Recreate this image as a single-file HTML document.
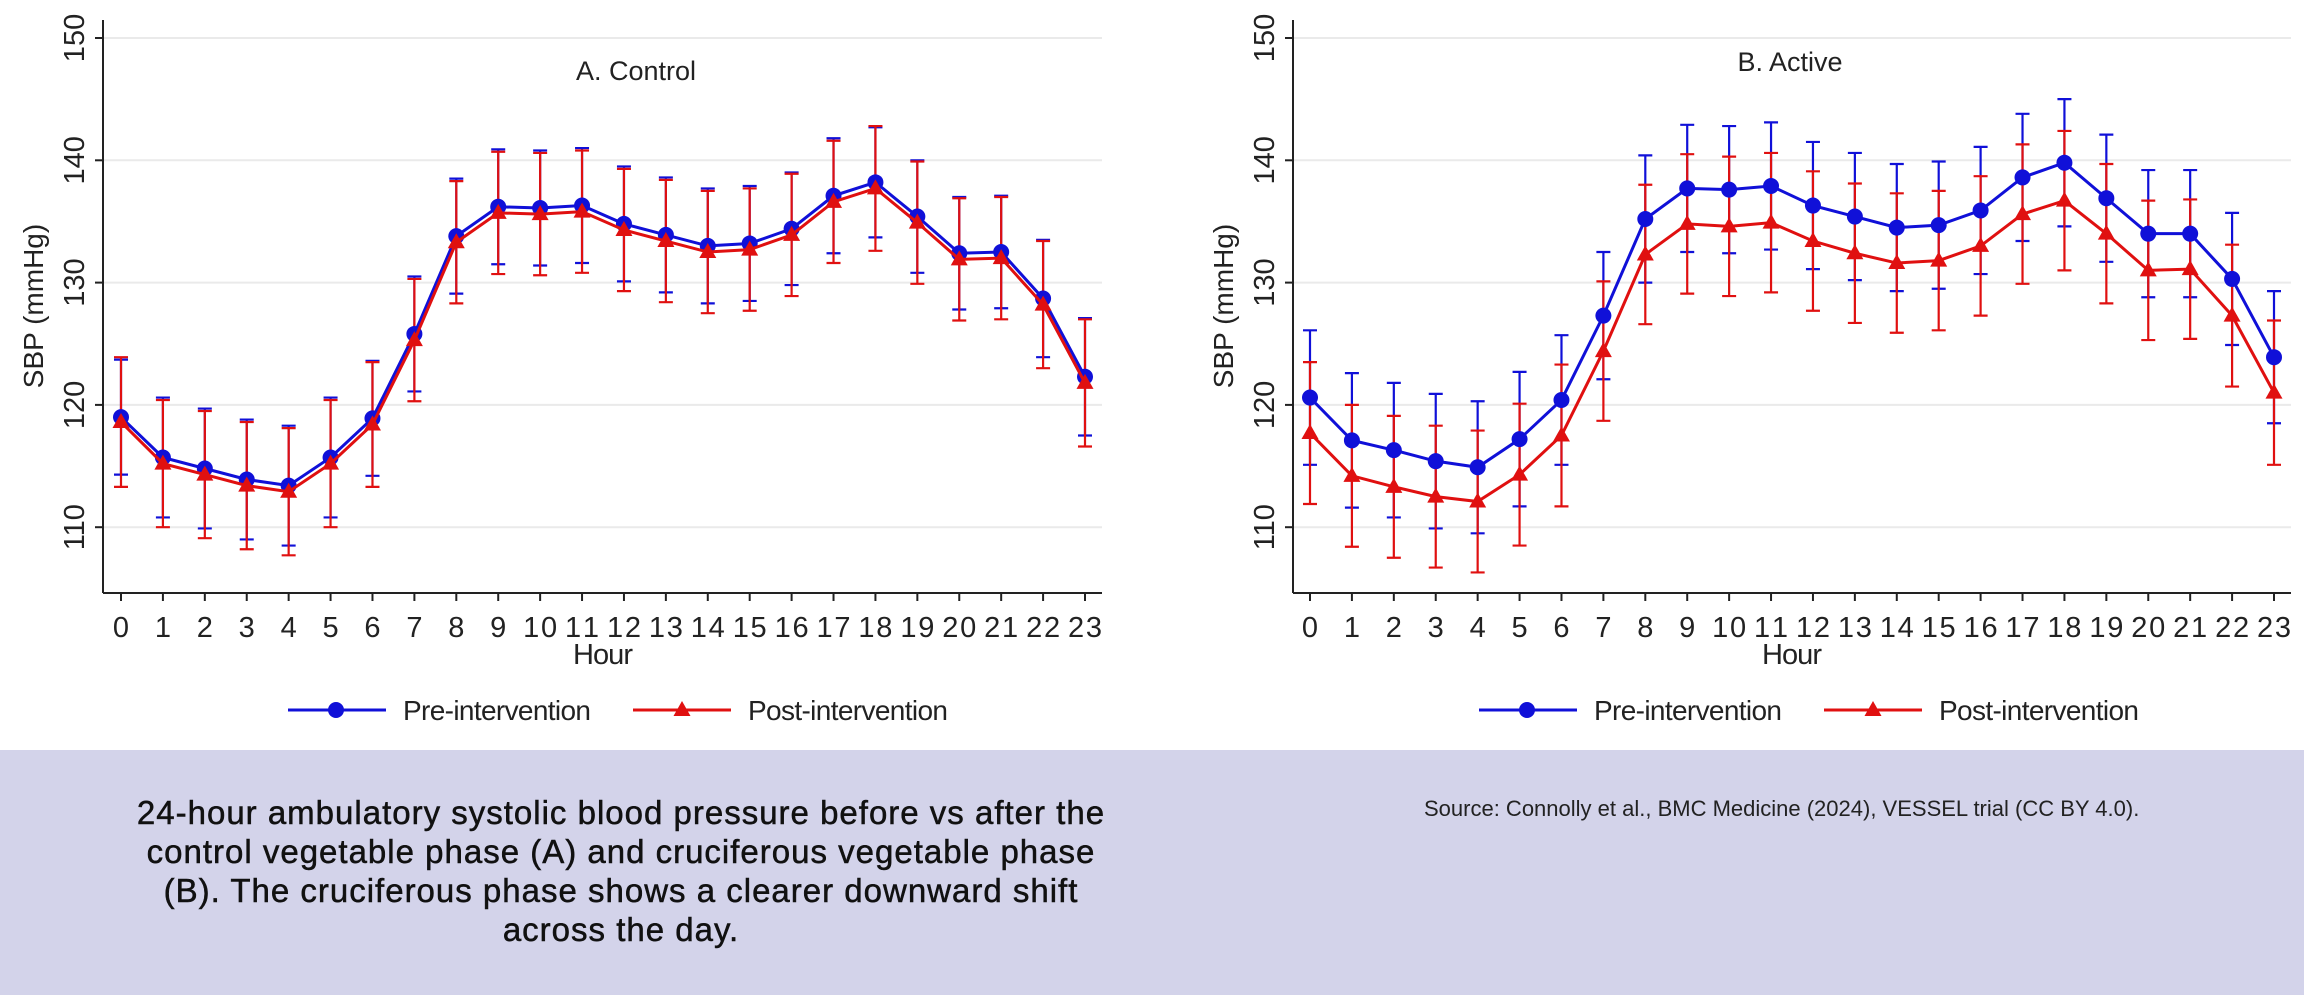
<!DOCTYPE html>
<html><head><meta charset="utf-8">
<style>
html,body{margin:0;padding:0;background:#fff;}
#wrap{position:relative;width:2304px;height:995px;overflow:hidden;font-family:"Liberation Sans",sans-serif;}
#chart{position:absolute;left:0;top:0;}
#caption-band{position:absolute;left:0;top:750px;width:2304px;height:245px;background:#d3d3ea;}
#caption{position:absolute;left:71px;top:43px;width:1100px;text-align:center;font-size:33px;letter-spacing:1px;line-height:39px;color:#111;-webkit-text-stroke:0.5px #111;}
#source{position:absolute;left:1424px;top:46px;font-size:22px;color:#222;}
</style></head>
<body>
<div id="wrap">
<svg id="chart" width="2304" height="750" xmlns="http://www.w3.org/2000/svg"></svg>
<div id="caption-band">
<div id="caption">24-hour ambulatory systolic blood pressure before vs after the<br>control vegetable phase (A) and cruciferous vegetable phase<br>(B). The cruciferous phase shows a clearer downward shift<br>across the day.</div>
<div id="source">Source: Connolly et al., BMC Medicine (2024), VESSEL trial (CC BY 4.0).</div>
</div>
</div>
<script>
const hours = [0,1,2,3,4,5,6,7,8,9,10,11,12,13,14,15,16,17,18,19,20,21,22,23];
const yTicks = [110,120,130,140,150];
const controlPre = [119,115.7,114.8,113.9,113.4,115.7,118.9,125.8,133.8,136.2,136.1,136.3,134.8,133.9,133.0,133.2,134.4,137.1,138.2,135.4,132.4,132.5,128.7,122.3];
const controlPost = [118.6,115.2,114.3,113.4,112.9,115.2,118.4,125.3,133.3,135.7,135.6,135.8,134.3,133.4,132.5,132.7,133.9,136.6,137.7,134.9,131.9,132.0,128.2,121.8];
const controlPreErr = [4.7,4.9,4.9,4.9,4.9,4.9,4.7,4.7,4.7,4.7,4.7,4.7,4.7,4.7,4.7,4.7,4.6,4.7,4.5,4.6,4.6,4.6,4.8,4.8];
const controlPostErr = [5.3,5.2,5.2,5.2,5.2,5.2,5.1,5.0,5.0,5.0,5.0,5.0,5.0,5.0,5.0,5.0,5.0,5.0,5.1,5.0,5.0,5.0,5.2,5.2];
const activePre = [120.6,117.1,116.3,115.4,114.9,117.2,120.4,127.3,135.2,137.7,137.6,137.9,136.3,135.4,134.5,134.7,135.9,138.6,139.8,136.9,134.0,134.0,130.3,123.9];
const activePost = [117.7,114.2,113.3,112.5,112.1,114.3,117.5,124.4,132.3,134.8,134.6,134.9,133.4,132.4,131.6,131.8,133.0,135.6,136.7,134.0,131.0,131.1,127.3,121.0];
const activePreErr = [5.5,5.5,5.5,5.5,5.4,5.5,5.3,5.2,5.2,5.2,5.2,5.2,5.2,5.2,5.2,5.2,5.2,5.2,5.2,5.2,5.2,5.2,5.4,5.4];
const activePostErr = [5.8,5.8,5.8,5.8,5.8,5.8,5.8,5.7,5.7,5.7,5.7,5.7,5.7,5.7,5.7,5.7,5.7,5.7,5.7,5.7,5.7,5.7,5.8,5.9];

const NS="http://www.w3.org/2000/svg";
const svg=document.getElementById('chart');
function mk(tag,attrs,parent){const e=document.createElementNS(NS,tag);for(const k in attrs)e.setAttribute(k,attrs[k]);(parent||svg).appendChild(e);return e;}

function panel(cfg){
  const g=mk('g',{});
  
  
  const xs=h=>cfg.x0+(cfg.x23-cfg.x0)*h/23;
  const ys=v=>38+(150-v)*12.23;
  yTicks.forEach(t=>{
    const l=mk('line',{x1:cfg.axisX,x2:cfg.right,y1:ys(t),y2:ys(t),stroke:'#eaeaea','stroke-width':2},g);
    
    
    const tx=mk('text',{x:0,y:0,transform:`translate(${cfg.axisX-19},${ys(t)}) rotate(-90)`,'text-anchor':'middle','font-size':29,fill:'#222'},g);
    tx.textContent=t;
    
    
    const tk=mk('line',{x1:cfg.axisX-8,x2:cfg.axisX,y1:ys(t),y2:ys(t),stroke:'#222','stroke-width':2},g);
    
    
  });
  const ya=mk('line',{x1:cfg.axisX,x2:cfg.axisX,y1:20,y2:593,stroke:'#222','stroke-width':2},g);
  
  
  const xa=mk('line',{x1:cfg.axisX,x2:cfg.right,y1:593,y2:593,stroke:'#222','stroke-width':2},g);
  
  
  hours.forEach(h=>{
    const tk=mk('line',{x1:xs(h),x2:xs(h),y1:593,y2:601,stroke:'#222','stroke-width':2},g);
    
    
    const tx=mk('text',{x:xs(h),y:637,'text-anchor':'middle','font-size':29,fill:'#222'},g);
    tx.textContent=h;
    if(h>=10) tx.setAttribute('textLength',34);
    
    
  });
  const xt=mk('text',{x:(cfg.x0+cfg.x23)/2,y:664,'text-anchor':'middle','font-size':29,fill:'#222',textLength:60},g);
  xt.textContent='Hour';
  
  
  const yt=mk('text',{x:0,y:0,transform:`translate(${cfg.axisX-60},306) rotate(-90)`,'text-anchor':'middle','font-size':28,fill:'#222'},g);
  yt.textContent='SBP (mmHg)';
  
  
  const tt=mk('text',{x:cfg.titleX,y:cfg.titleY,'text-anchor':'middle','font-size':27,fill:'#222'},g);
  tt.textContent=cfg.title;
  
  
  const series=[{v:cfg.pre,e:cfg.preErr,c:'#1010d8',m:'circle',n:'pre'},{v:cfg.post,e:cfg.postErr,c:'#e01010',m:'tri',n:'post'}];
  series.forEach(s=>{
    hours.forEach((h,i)=>{
      const x=xs(h),yu=ys(s.v[i]+s.e[i]),yl=ys(s.v[i]-s.e[i]);
      const eb=mk('path',{d:`M${x},${yu}V${yl}M${x-7},${yu}H${x+7}M${x-7},${yl}H${x+7}`,stroke:s.c,'stroke-width':2.2,fill:'none'},g);
      
      
    });
  });
  series.forEach(s=>{
    const pl=mk('polyline',{points:hours.map((h,i)=>xs(h)+','+ys(s.v[i])).join(' '),stroke:s.c,'stroke-width':3,fill:'none'},g);
    
    
    hours.forEach((h,i)=>{
      const x=xs(h),y=ys(s.v[i]);
      let m;
      if(s.m==='circle') m=mk('circle',{cx:x,cy:y,r:8,fill:s.c},g);
      else m=mk('path',{d:`M${x},${y-9}L${x+8.5},${y+6}L${x-8.5},${y+6}Z`,fill:s.c},g);
      
      
    });
  });
  const lg=mk('g',{},g);
  
  
  const L=cfg.legX;
  const l1=mk('line',{x1:L,x2:L+98,y1:710,y2:710,stroke:'#1010d8','stroke-width':3},lg);
  
  
  mk('circle',{cx:L+48,cy:710,r:8,fill:'#1010d8'},lg);
  const t1=mk('text',{x:L+115,y:720,'font-size':28,fill:'#222',textLength:188},lg);
  t1.textContent='Pre-intervention';
  
  
  const L2=L+345;
  const l2=mk('line',{x1:L2,x2:L2+98,y1:710,y2:710,stroke:'#e01010','stroke-width':3},lg);
  
  
  mk('path',{d:`M${L2+49},701L${L2+57.5},716L${L2+40.5},716Z`,fill:'#e01010'},lg);
  const t2=mk('text',{x:L2+115,y:720,'font-size':28,fill:'#222',textLength:200},lg);
  t2.textContent='Post-intervention';
  
  
}
panel({name:'panel-a-control',axisX:103,right:1102,x0:121,x23:1085,title:'A. Control',titleX:636,titleY:80,legX:288,pre:controlPre,post:controlPost,preErr:controlPreErr,postErr:controlPostErr});
panel({name:'panel-b-active',axisX:1293,right:2291,x0:1310,x23:2274,title:'B. Active',titleX:1790,titleY:71,legX:1479,pre:activePre,post:activePost,preErr:activePreErr,postErr:activePostErr});
</script>
</body></html>
